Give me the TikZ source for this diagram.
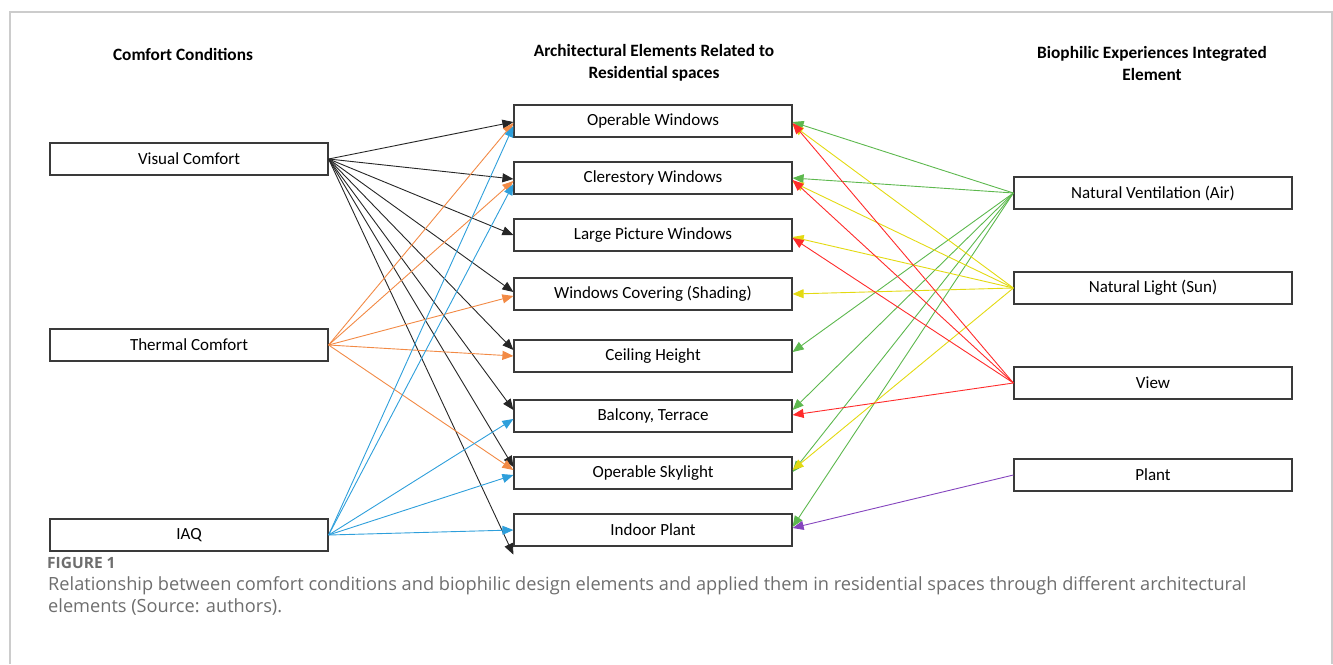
\documentclass[tikz,border=0pt]{standalone}
\usepackage{fontspec}
\setmainfont{Carlito}
\newfontfamily\capfont{Open Sans}
\usetikzlibrary{arrows.meta}

\definecolor{framegray}{HTML}{CCCCCC}
\definecolor{boxline}{HTML}{3A3A3A}
\definecolor{blk}{HTML}{262626}
\definecolor{orng}{HTML}{F28A45}
\definecolor{sky}{HTML}{2E9FDB}
\definecolor{grn}{HTML}{5DB84E}
\definecolor{yel}{HTML}{E3DA12}
\definecolor{rd}{HTML}{FF2B2B}
\definecolor{prp}{HTML}{8545BE}
\definecolor{capgray}{HTML}{6E6E6E}

\tikzset{
  box/.style={draw=boxline,line width=1.2pt,minimum width=278pt,minimum height=32pt,
    inner sep=0pt,font=\fontsize{17}{20}\selectfont},
  hdr/.style={align=center,font=\fontsize{17.3}{22}\selectfont\bfseries},
  link/.style={line width=0.9pt,-{Triangle[length=11pt,width=9pt]}},
  captxt/.style={anchor=base west,inner sep=0pt,text=capgray,font=\capfont\fontsize{18.2}{22}\selectfont},
}

\begin{document}
\begin{tikzpicture}[x=1pt,y=-1pt]
\useasboundingbox (0,0) rectangle (1333,664);
\draw[framegray,line width=1.2pt] (10,664) -- (10,12) -- (1332,12) -- (1332,664);

% column headings
\node[hdr] (h1) at (183,54) {Comfort Conditions};
\node[hdr] (h2) at (654,63) {Architectural Elements Related to\\Residential spaces};
\node[hdr] (h3) at (1152,63) {Biophilic Experiences Integrated\\Element};

% comfort conditions
\node[box] (vc) at (189,159) {Visual Comfort};
\node[box] (tc) at (189,345) {Thermal Comfort};
\node[box] (iaq) at (189,535) {IAQ};

% architectural elements
\node[box] (ow) at (653,121) {Operable Windows};
\node[box] (cw) at (653,178) {Clerestory Windows};
\node[box] (lpw) at (653,235) {Large Picture Windows};
\node[box] (wc) at (653,294) {Windows Covering (Shading)};
\node[box] (ch) at (653,356) {Ceiling Height};
\node[box] (bt) at (653,416) {Balcony, Terrace};
\node[box] (os) at (653,473) {Operable Skylight};
\node[box] (ip) at (653,530) {Indoor Plant};

% biophilic experiences
\node[box] (nv) at (1153,193) {Natural Ventilation (Air)};
\node[box] (nl) at (1153,288) {Natural Light (Sun)};
\node[box] (vw) at (1153,383) {View};
\node[box] (pl) at (1153,475) {Plant};

% comfort -> elements
\draw[link,blk] (vc.east) -- ([yshift=-1pt]ow.west);
\draw[link,blk] (vc.east) -- ([yshift=-1pt]cw.west);
\draw[link,blk] (vc.east) -- (lpw.west);
\draw[link,blk] (vc.east) -- ([yshift=2pt]wc.west);
\draw[link,blk] (vc.east) -- ([yshift=6pt]ch.west);
\draw[link,blk] (vc.east) -- ([yshift=6pt]bt.west);
\draw[link,blk] (vc.east) -- ([yshift=6pt]os.west);
\draw[link,blk] (vc.east) -- ([yshift=-8pt]ip.south west);

\draw[link,orng] (tc.east) -- ([yshift=-2pt]ow.west);
\draw[link,orng] (tc.east) -- ([yshift=-3pt]cw.west);
\draw[link,orng] (tc.east) -- ([yshift=-2pt]wc.west);
\draw[link,orng] (tc.east) -- (ch.west);
\draw[link,orng] (tc.east) -- ([yshift=3pt]os.west);

\draw[link,sky] (iaq.east) -- ([yshift=-5pt]ow.west);
\draw[link,sky] (iaq.east) -- ([yshift=-6pt]cw.west);
\draw[link,sky] (iaq.east) -- ([yshift=-3pt]bt.west);
\draw[link,sky] (iaq.east) -- ([yshift=-2pt]os.west);
\draw[link,sky] (iaq.east) -- (ip.west);

% experiences -> elements
\draw[link,grn] (nv.west) -- ([yshift=-1pt]ow.east);
\draw[link,grn] (nv.west) -- (cw.east);
\draw[link,grn] (nv.west) -- ([yshift=4pt]ch.east);
\draw[link,grn] (nv.west) -- ([yshift=6pt]bt.east);
\draw[link,grn] (nv.west) -- ([yshift=1pt]os.east);
\draw[link,grn] (nv.west) -- ([yshift=3pt]ip.east);

\draw[link,yel] (nl.west) -- ([yshift=-4pt]ow.east);
\draw[link,yel] (nl.west) -- ([yshift=-4pt]cw.east);
\draw[link,yel] (nl.west) -- ([yshift=-2pt]lpw.east);
\draw[link,yel] (nl.west) -- (wc.east);
\draw[link,yel] (nl.west) -- ([yshift=3pt]os.east);

\draw[link,rd] (vw.west) -- ([yshift=-2pt]ow.east);
\draw[link,rd] (vw.west) -- ([yshift=-2pt]cw.east);
\draw[link,rd] (vw.west) -- ([yshift=-3pt]lpw.east);
\draw[link,rd] (vw.west) -- ([yshift=1pt]bt.east);

\draw[link,prp] (pl.west) -- ([yshift=2pt]ip.east);

% caption
\node[captxt,font=\capfont\fontsize{15.5}{18}\selectfont\bfseries] (fig) at (47,568) {FIGURE 1};
\node[captxt] (cap1) at (48,590) {Relationship between comfort conditions and biophilic design elements and applied them in residential spaces through different architectural};
\node[captxt] (cap2) at (48,612) {elements (Source: authors).};
\end{tikzpicture}
\end{document}
